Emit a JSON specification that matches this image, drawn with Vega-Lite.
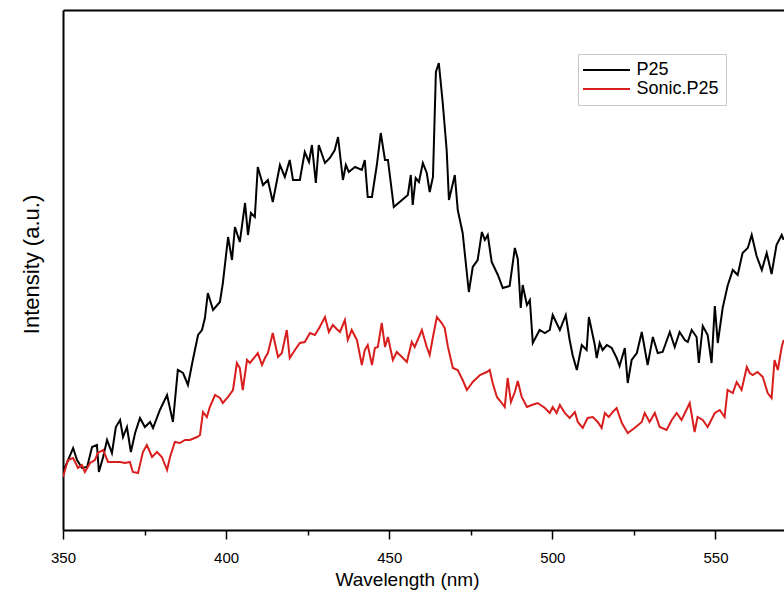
{
"$schema": "https://vega.github.io/schema/vega-lite/v6.json",
"width": 721, "height": 520,
"autosize": {"type": "none"},
"padding": {"left": 63, "top": 10, "right": 0, "bottom": 69},
"background": "white",
"config": {"view": {"stroke": null}, "font": "Liberation Sans"},
"data": {"values": [
{"s":"P25","w":350.0,"v":58},{"s":"P25","w":353.1,"v":82},{"s":"P25","w":354.3,"v":70},{"s":"P25","w":355.8,"v":62},{"s":"P25","w":357.4,"v":63},{"s":"P25","w":358.9,"v":83},{"s":"P25","w":360.4,"v":85},{"s":"P25","w":361.0,"v":58},{"s":"P25","w":362.3,"v":73},{"s":"P25","w":363.5,"v":90},{"s":"P25","w":365.0,"v":77},{"s":"P25","w":366.2,"v":103},{"s":"P25","w":367.5,"v":110},{"s":"P25","w":368.4,"v":93},{"s":"P25","w":369.6,"v":103},{"s":"P25","w":370.8,"v":78},{"s":"P25","w":372.1,"v":97},{"s":"P25","w":373.6,"v":112},{"s":"P25","w":375.1,"v":103},{"s":"P25","w":376.7,"v":108},{"s":"P25","w":377.6,"v":102},{"s":"P25","w":379.7,"v":120},{"s":"P25","w":381.9,"v":135},{"s":"P25","w":383.7,"v":108},{"s":"P25","w":385.2,"v":160},{"s":"P25","w":386.8,"v":157},{"s":"P25","w":388.3,"v":145},{"s":"P25","w":389.8,"v":170},{"s":"P25","w":391.4,"v":195},{"s":"P25","w":392.6,"v":200},{"s":"P25","w":393.5,"v":212},{"s":"P25","w":394.4,"v":237},{"s":"P25","w":396.0,"v":220},{"s":"P25","w":398.1,"v":228},{"s":"P25","w":399.0,"v":247},{"s":"P25","w":400.6,"v":293},{"s":"P25","w":401.8,"v":270},{"s":"P25","w":402.7,"v":303},{"s":"P25","w":404.2,"v":288},{"s":"P25","w":405.8,"v":327},{"s":"P25","w":406.7,"v":295},{"s":"P25","w":407.6,"v":317},{"s":"P25","w":408.8,"v":313},{"s":"P25","w":409.7,"v":363},{"s":"P25","w":411.3,"v":345},{"s":"P25","w":412.8,"v":350},{"s":"P25","w":414.3,"v":328},{"s":"P25","w":416.5,"v":365},{"s":"P25","w":418.0,"v":353},{"s":"P25","w":419.5,"v":370},{"s":"P25","w":420.5,"v":350},{"s":"P25","w":422.6,"v":350},{"s":"P25","w":424.1,"v":378},{"s":"P25","w":425.4,"v":368},{"s":"P25","w":426.3,"v":385},{"s":"P25","w":427.5,"v":347},{"s":"P25","w":428.4,"v":385},{"s":"P25","w":430.3,"v":367},{"s":"P25","w":431.8,"v":372},{"s":"P25","w":433.3,"v":380},{"s":"P25","w":434.3,"v":393},{"s":"P25","w":435.8,"v":350},{"s":"P25","w":436.7,"v":365},{"s":"P25","w":437.6,"v":358},{"s":"P25","w":439.5,"v":363},{"s":"P25","w":441.6,"v":360},{"s":"P25","w":442.5,"v":370},{"s":"P25","w":443.4,"v":333},{"s":"P25","w":444.7,"v":333},{"s":"P25","w":446.2,"v":365},{"s":"P25","w":447.4,"v":397},{"s":"P25","w":448.7,"v":370},{"s":"P25","w":449.6,"v":370},{"s":"P25","w":451.4,"v":323},{"s":"P25","w":453.2,"v":328},{"s":"P25","w":455.7,"v":335},{"s":"P25","w":456.6,"v":355},{"s":"P25","w":457.2,"v":325},{"s":"P25","w":458.1,"v":352},{"s":"P25","w":459.1,"v":348},{"s":"P25","w":460.3,"v":367},{"s":"P25","w":461.5,"v":357},{"s":"P25","w":462.4,"v":338},{"s":"P25","w":463.4,"v":353},{"s":"P25","w":464.3,"v":458},{"s":"P25","w":465.2,"v":467},{"s":"P25","w":466.4,"v":427},{"s":"P25","w":467.6,"v":380},{"s":"P25","w":468.3,"v":330},{"s":"P25","w":470.1,"v":355},{"s":"P25","w":471.0,"v":320},{"s":"P25","w":472.5,"v":297},{"s":"P25","w":474.4,"v":238},{"s":"P25","w":475.6,"v":263},{"s":"P25","w":477.1,"v":270},{"s":"P25","w":478.4,"v":298},{"s":"P25","w":479.3,"v":290},{"s":"P25","w":480.2,"v":295},{"s":"P25","w":481.4,"v":268},{"s":"P25","w":483.3,"v":255},{"s":"P25","w":484.8,"v":242},{"s":"P25","w":486.9,"v":244},{"s":"P25","w":488.5,"v":282},{"s":"P25","w":489.4,"v":271},{"s":"P25","w":490.3,"v":222},{"s":"P25","w":490.9,"v":245},{"s":"P25","w":492.2,"v":225},{"s":"P25","w":493.1,"v":230},{"s":"P25","w":494.0,"v":187},{"s":"P25","w":496.1,"v":200},{"s":"P25","w":497.7,"v":197},{"s":"P25","w":499.2,"v":200},{"s":"P25","w":500.1,"v":215},{"s":"P25","w":502.3,"v":200},{"s":"P25","w":504.1,"v":215},{"s":"P25","w":505.3,"v":190},{"s":"P25","w":506.2,"v":175},{"s":"P25","w":507.5,"v":160},{"s":"P25","w":509.0,"v":185},{"s":"P25","w":510.5,"v":180},{"s":"P25","w":511.2,"v":213},{"s":"P25","w":513.0,"v":185},{"s":"P25","w":513.6,"v":172},{"s":"P25","w":514.5,"v":187},{"s":"P25","w":515.4,"v":180},{"s":"P25","w":516.7,"v":185},{"s":"P25","w":518.2,"v":182},{"s":"P25","w":519.7,"v":172},{"s":"P25","w":520.6,"v":164},{"s":"P25","w":522.2,"v":182},{"s":"P25","w":523.1,"v":147},{"s":"P25","w":524.3,"v":170},{"s":"P25","w":525.9,"v":177},{"s":"P25","w":527.4,"v":198},{"s":"P25","w":529.2,"v":165},{"s":"P25","w":530.8,"v":193},{"s":"P25","w":532.3,"v":177},{"s":"P25","w":533.8,"v":178},{"s":"P25","w":536.0,"v":198},{"s":"P25","w":537.5,"v":183},{"s":"P25","w":539.0,"v":198},{"s":"P25","w":540.6,"v":190},{"s":"P25","w":541.5,"v":188},{"s":"P25","w":542.7,"v":200},{"s":"P25","w":544.2,"v":193},{"s":"P25","w":544.9,"v":167},{"s":"P25","w":546.1,"v":204},{"s":"P25","w":547.6,"v":195},{"s":"P25","w":548.8,"v":167},{"s":"P25","w":549.8,"v":224},{"s":"P25","w":550.7,"v":187},{"s":"P25","w":552.2,"v":222},{"s":"P25","w":553.7,"v":244},{"s":"P25","w":555.3,"v":260},{"s":"P25","w":556.8,"v":255},{"s":"P25","w":558.3,"v":277},{"s":"P25","w":559.9,"v":282},{"s":"P25","w":561.1,"v":295},{"s":"P25","w":562.6,"v":274},{"s":"P25","w":564.2,"v":260},{"s":"P25","w":565.7,"v":277},{"s":"P25","w":567.2,"v":256},{"s":"P25","w":568.7,"v":285},{"s":"P25","w":570.3,"v":295},{"s":"P25","w":570.9,"v":290},
{"s":"Sonic.P25","w":350.0,"v":53},{"s":"Sonic.P25","w":351.5,"v":70},{"s":"Sonic.P25","w":353.1,"v":72},{"s":"Sonic.P25","w":354.6,"v":62},{"s":"Sonic.P25","w":355.8,"v":65},{"s":"Sonic.P25","w":356.7,"v":58},{"s":"Sonic.P25","w":358.3,"v":67},{"s":"Sonic.P25","w":359.8,"v":70},{"s":"Sonic.P25","w":360.7,"v":77},{"s":"Sonic.P25","w":362.3,"v":80},{"s":"Sonic.P25","w":363.8,"v":68},{"s":"Sonic.P25","w":365.3,"v":68},{"s":"Sonic.P25","w":367.5,"v":68},{"s":"Sonic.P25","w":369.0,"v":67},{"s":"Sonic.P25","w":370.5,"v":68},{"s":"Sonic.P25","w":371.4,"v":58},{"s":"Sonic.P25","w":373.0,"v":57},{"s":"Sonic.P25","w":374.5,"v":78},{"s":"Sonic.P25","w":375.7,"v":85},{"s":"Sonic.P25","w":377.3,"v":73},{"s":"Sonic.P25","w":378.8,"v":78},{"s":"Sonic.P25","w":380.3,"v":73},{"s":"Sonic.P25","w":381.9,"v":60},{"s":"Sonic.P25","w":382.8,"v":73},{"s":"Sonic.P25","w":384.3,"v":88},{"s":"Sonic.P25","w":385.8,"v":87},{"s":"Sonic.P25","w":387.4,"v":90},{"s":"Sonic.P25","w":388.9,"v":90},{"s":"Sonic.P25","w":391.1,"v":93},{"s":"Sonic.P25","w":392.0,"v":95},{"s":"Sonic.P25","w":392.9,"v":118},{"s":"Sonic.P25","w":394.1,"v":113},{"s":"Sonic.P25","w":395.0,"v":123},{"s":"Sonic.P25","w":396.6,"v":135},{"s":"Sonic.P25","w":398.1,"v":132},{"s":"Sonic.P25","w":399.0,"v":127},{"s":"Sonic.P25","w":400.6,"v":133},{"s":"Sonic.P25","w":402.1,"v":140},{"s":"Sonic.P25","w":403.3,"v":167},{"s":"Sonic.P25","w":404.2,"v":162},{"s":"Sonic.P25","w":405.1,"v":140},{"s":"Sonic.P25","w":406.4,"v":170},{"s":"Sonic.P25","w":407.3,"v":167},{"s":"Sonic.P25","w":408.8,"v":173},{"s":"Sonic.P25","w":409.7,"v":177},{"s":"Sonic.P25","w":411.0,"v":165},{"s":"Sonic.P25","w":411.9,"v":172},{"s":"Sonic.P25","w":412.8,"v":177},{"s":"Sonic.P25","w":414.3,"v":197},{"s":"Sonic.P25","w":415.9,"v":173},{"s":"Sonic.P25","w":417.1,"v":177},{"s":"Sonic.P25","w":418.6,"v":200},{"s":"Sonic.P25","w":419.5,"v":172},{"s":"Sonic.P25","w":421.1,"v":180},{"s":"Sonic.P25","w":422.6,"v":187},{"s":"Sonic.P25","w":424.1,"v":188},{"s":"Sonic.P25","w":425.7,"v":197},{"s":"Sonic.P25","w":427.2,"v":195},{"s":"Sonic.P25","w":428.7,"v":203},{"s":"Sonic.P25","w":430.3,"v":213},{"s":"Sonic.P25","w":431.5,"v":198},{"s":"Sonic.P25","w":432.7,"v":205},{"s":"Sonic.P25","w":433.9,"v":201},{"s":"Sonic.P25","w":434.9,"v":198},{"s":"Sonic.P25","w":436.4,"v":210},{"s":"Sonic.P25","w":437.3,"v":190},{"s":"Sonic.P25","w":438.5,"v":200},{"s":"Sonic.P25","w":440.1,"v":190},{"s":"Sonic.P25","w":441.6,"v":165},{"s":"Sonic.P25","w":442.5,"v":180},{"s":"Sonic.P25","w":443.4,"v":185},{"s":"Sonic.P25","w":444.7,"v":165},{"s":"Sonic.P25","w":445.6,"v":182},{"s":"Sonic.P25","w":446.5,"v":183},{"s":"Sonic.P25","w":447.7,"v":207},{"s":"Sonic.P25","w":448.7,"v":183},{"s":"Sonic.P25","w":449.6,"v":193},{"s":"Sonic.P25","w":451.1,"v":170},{"s":"Sonic.P25","w":452.3,"v":178},{"s":"Sonic.P25","w":453.9,"v":173},{"s":"Sonic.P25","w":455.4,"v":168},{"s":"Sonic.P25","w":456.9,"v":188},{"s":"Sonic.P25","w":457.8,"v":183},{"s":"Sonic.P25","w":460.0,"v":200},{"s":"Sonic.P25","w":461.5,"v":183},{"s":"Sonic.P25","w":462.4,"v":175},{"s":"Sonic.P25","w":463.4,"v":193},{"s":"Sonic.P25","w":464.6,"v":213},{"s":"Sonic.P25","w":466.1,"v":207},{"s":"Sonic.P25","w":467.0,"v":202},{"s":"Sonic.P25","w":468.0,"v":183},{"s":"Sonic.P25","w":469.5,"v":162},{"s":"Sonic.P25","w":471.0,"v":160},{"s":"Sonic.P25","w":472.5,"v":150},{"s":"Sonic.P25","w":473.8,"v":140},{"s":"Sonic.P25","w":475.6,"v":148},{"s":"Sonic.P25","w":477.8,"v":155},{"s":"Sonic.P25","w":479.9,"v":158},{"s":"Sonic.P25","w":480.8,"v":160},{"s":"Sonic.P25","w":481.7,"v":147},{"s":"Sonic.P25","w":483.0,"v":133},{"s":"Sonic.P25","w":484.5,"v":127},{"s":"Sonic.P25","w":485.4,"v":123},{"s":"Sonic.P25","w":486.3,"v":152},{"s":"Sonic.P25","w":487.3,"v":128},{"s":"Sonic.P25","w":488.5,"v":138},{"s":"Sonic.P25","w":489.4,"v":149},{"s":"Sonic.P25","w":490.6,"v":133},{"s":"Sonic.P25","w":492.2,"v":123},{"s":"Sonic.P25","w":493.7,"v":125},{"s":"Sonic.P25","w":495.5,"v":127},{"s":"Sonic.P25","w":497.7,"v":122},{"s":"Sonic.P25","w":499.2,"v":117},{"s":"Sonic.P25","w":500.1,"v":123},{"s":"Sonic.P25","w":501.3,"v":117},{"s":"Sonic.P25","w":502.3,"v":125},{"s":"Sonic.P25","w":503.8,"v":117},{"s":"Sonic.P25","w":505.3,"v":112},{"s":"Sonic.P25","w":506.9,"v":118},{"s":"Sonic.P25","w":507.8,"v":108},{"s":"Sonic.P25","w":509.3,"v":102},{"s":"Sonic.P25","w":510.8,"v":112},{"s":"Sonic.P25","w":512.4,"v":113},{"s":"Sonic.P25","w":513.9,"v":108},{"s":"Sonic.P25","w":515.1,"v":102},{"s":"Sonic.P25","w":516.1,"v":117},{"s":"Sonic.P25","w":517.3,"v":113},{"s":"Sonic.P25","w":518.5,"v":118},{"s":"Sonic.P25","w":519.7,"v":122},{"s":"Sonic.P25","w":521.3,"v":107},{"s":"Sonic.P25","w":523.1,"v":97},{"s":"Sonic.P25","w":525.2,"v":102},{"s":"Sonic.P25","w":527.4,"v":108},{"s":"Sonic.P25","w":528.3,"v":117},{"s":"Sonic.P25","w":529.8,"v":108},{"s":"Sonic.P25","w":531.4,"v":117},{"s":"Sonic.P25","w":532.9,"v":103},{"s":"Sonic.P25","w":535.0,"v":100},{"s":"Sonic.P25","w":536.6,"v":110},{"s":"Sonic.P25","w":538.1,"v":117},{"s":"Sonic.P25","w":539.6,"v":110},{"s":"Sonic.P25","w":542.1,"v":127},{"s":"Sonic.P25","w":543.6,"v":98},{"s":"Sonic.P25","w":544.5,"v":113},{"s":"Sonic.P25","w":546.1,"v":110},{"s":"Sonic.P25","w":547.6,"v":103},{"s":"Sonic.P25","w":549.8,"v":117},{"s":"Sonic.P25","w":551.3,"v":120},{"s":"Sonic.P25","w":552.8,"v":113},{"s":"Sonic.P25","w":553.7,"v":140},{"s":"Sonic.P25","w":555.3,"v":137},{"s":"Sonic.P25","w":556.5,"v":148},{"s":"Sonic.P25","w":558.0,"v":140},{"s":"Sonic.P25","w":559.6,"v":163},{"s":"Sonic.P25","w":560.5,"v":157},{"s":"Sonic.P25","w":561.4,"v":155},{"s":"Sonic.P25","w":562.9,"v":158},{"s":"Sonic.P25","w":564.5,"v":153},{"s":"Sonic.P25","w":566.0,"v":137},{"s":"Sonic.P25","w":567.2,"v":132},{"s":"Sonic.P25","w":568.1,"v":170},{"s":"Sonic.P25","w":569.1,"v":160},{"s":"Sonic.P25","w":570.3,"v":183},{"s":"Sonic.P25","w":570.9,"v":190}
]},
"layer": [
{"mark": {"type": "line", "strokeOpacity": 0},
 "encoding": {
  "x": {"field": "w", "type": "quantitative", "scale": {"domain": [350, 571], "nice": false, "zero": false},
        "axis": {"orient": "top", "labels": false, "ticks": false, "grid": false, "title": null, "domainColor": "black", "domainWidth": 2}},
  "y": {"field": "v", "type": "quantitative", "scale": {"domain": [0, 520], "nice": false}, "axis": null},
  "detail": {"field": "s"}
 }},
{"mark": {"type": "line", "strokeWidth": 2, "clip": true},
 "encoding": {
  "x": {"field": "w", "type": "quantitative", "scale": {"domain": [350, 571], "nice": false, "zero": false},
        "axis": {"orient": "bottom", "values": [350, 375, 400, 425, 450, 475, 500, 525, 550, 575], "labelExpr": "datum.value % 50 === 0 ? datum.label : ''",
                 "grid": false, "domainColor": "black", "domainWidth": 2, "tickColor": "black", "tickWidth": 1.5,
                 "tickSize": {"condition": {"test": "datum.value % 50 === 0", "value": 9}, "value": 5},
                 "labelFontSize": 15, "labelColor": "black", "labelPadding": 11, "labelFlush": false,
                 "title": "Wavelength (nm)", "titleFontSize": 19, "titleFontWeight": "normal", "titleColor": "black", "titlePadding": 5, "titleX": 344}},
  "y": {"field": "v", "type": "quantitative", "scale": {"domain": [0, 520], "nice": false},
        "axis": {"labels": false, "ticks": false, "grid": false, "domainColor": "black", "domainWidth": 2,
                 "title": "Intensity (a.u.)", "titleFontSize": 22, "titleFontWeight": "normal", "titleColor": "black", "titlePadding": 20, "titleY": 254}},
  "color": {"field": "s", "type": "nominal", "scale": {"domain": ["P25", "Sonic.P25"], "range": ["#000000", "#d91e1e"]},
            "legend": {"title": null, "orient": "none", "legendX": 515, "legendY": 44, "symbolType": "M-4.7,0H4.7", "symbolSize": 100, "symbolStrokeWidth": 2,
                       "symbolOffset": 12.5, "labelOffset": 21,
                       "labelFontSize": 18, "labelColor": "black", "strokeColor": "#c8c8c8", "padding": 7, "rowPadding": 1}}
 }}
],
"resolve": {"scale": {"x": "independent", "y": "independent"}}
}
